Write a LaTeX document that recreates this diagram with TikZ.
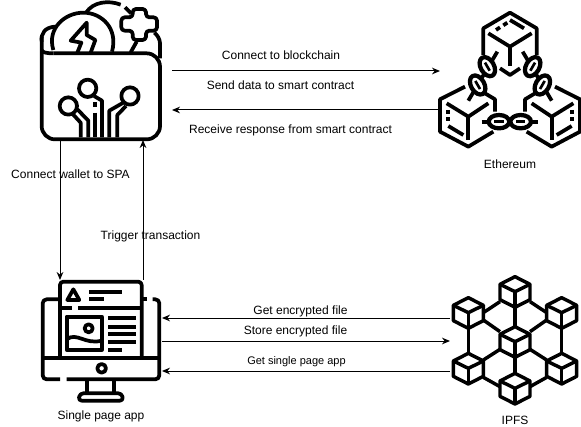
\documentclass[tikz,border=0pt]{standalone}
\usepackage{fontspec}
\setmainfont{Liberation Sans}
\usetikzlibrary{arrows.meta}
\tikzset{
  label/.style={font=\fontsize{9}{11}\selectfont,inner sep=0pt},
  small label/.style={font=\fontsize{8.25}{10}\selectfont,inner sep=0pt},
  link/.style={->,line width=0.75pt},
  icon/.style={line width=#1,line join=round,line cap=butt},
  icon/.default=2.8pt
}
\newcommand{\sidecube}{
  \draw (105,260) -- (30,298) -- (30,395) -- (115,440) -- (190,395);
  \draw (165,280) -- (195,298) -- (195,335);
  \draw (50,310) -- (115,350) -- (175,310);
  \draw (115,350) -- (115,420);
  \draw (55,330) -- (55,342);
  \draw (55,352) -- (55,364);
  \draw (55,378) -- (100,405);
}
\newcommand{\chainlink}[3]{
  \draw[rotate around={#3:(#1,#2)},fill=white,line width=3.2pt] (#1,#2) ellipse (31 and 20);
  \draw[rotate around={#3:(#1,#2)},line width=2pt] (#1-14,#2) -- (#1+14,#2);
}
\begin{document}
\begin{tikzpicture}[x=0.75pt,y=-0.75pt,>={Stealth[length=6pt,width=5pt]}]
  \useasboundingbox (0,0) rectangle (581,427);
  % labels
  \node[label] (blockchain) at (281,55.5) {Connect to blockchain};
  \node[label] (send) at (280.5,85.5) {Send data to smart contract};
  \node[label] (receive) at (290.5,130.5) {Receive response from smart contract};
  \node[label] (ethereum) at (510,164.5) {Ethereum};
  \node[label] (connect) at (70.5,174.5) {Connect wallet to SPA};
  \node[label] (trigger) at (150.5,236) {Trigger transaction};
  \node[label] (getfile) at (300.5,311) {Get encrypted file};
  \node[label] (storefile) at (295.5,331) {Store encrypted file};
  \node[small label] (getapp) at (296.5,362) {Get single page app};
  \node[label] (spa) at (101,416.5) {Single page app};
  \node[label] (ipfs) at (515,420) {IPFS};
  % connector ends
  \coordinate (W1) at (172,71);   \coordinate (E1) at (440,71);
  \coordinate (W2) at (172,110);  \coordinate (E2) at (440,110);
  \coordinate (W3) at (60,140);   \coordinate (S3) at (60,280);
  \coordinate (W4) at (143,140);  \coordinate (S4) at (143,280);
  \coordinate (S5) at (162,318);  \coordinate (I5) at (450,318);
  \coordinate (S6) at (162,341);  \coordinate (I6) at (450,341);
  \coordinate (S7) at (162,371);  \coordinate (I7) at (450,371);
  \draw[link] (W1) -- (E1);
  \draw[link] (E2) -- (W2);
  \draw[link] (W3) -- (S3);
  \draw[link] (S4) -- (W4);
  \draw[link] (I5) -- (S5);
  \draw[link] (S6) -- (I6);
  \draw[link] (I7) -- (S7);
  % wallet
  \begin{scope}[shift={(20,0)},x=0.25pt,y=-0.25pt,icon]
    \draw[rounded corners=10pt] (65,110) -- (65,418) -- (420,418) -- (420,160) -- (100,160);
    \draw (65,150) .. controls (65,157) and (80,160) .. (100,160);
    \draw (65,125) .. controls (62,100) and (75,82) .. (105,80);
    \draw (100,150) .. controls (80,85) and (135,38) .. (190,38) .. controls (245,38) and (295,85) .. (276,155);
    \draw (198,38) .. controls (220,5) and (265,0) .. (302,14);
    \draw (315,22) -- (333,40);
    \draw (420,175) -- (420,130) .. controls (420,118) and (412,105) .. (403,98);
    \draw[rounded corners=2.5pt] (338,27) -- (378,27) -- (378,52) -- (411,52) -- (411,92) -- (378,92) -- (378,120) -- (338,120) -- (338,92) -- (304,92) -- (304,52) -- (338,52) -- cycle;
    \draw (350,125) -- (332,157);
    \draw (172,158) -- (184,128) -- (152,122) -- (200,68) -- (200,105) -- (226,120) -- (212,158);
    \draw (145,318) circle (26);
    \draw (203,265) circle (26);
    \draw (330,288) circle (26);
    \draw (158,342) -- (182,368) -- (182,412);
    \draw (172,328) -- (205,362) -- (205,412);
    \draw (222,288) -- (246,302) -- (246,412);
    \draw (225,306) -- (225,322);
    \draw (225,338) -- (225,412);
    \draw (310,308) -- (268,332) -- (268,412);
    \draw (318,318) -- (292,345) -- (292,412);
  \end{scope}
  % ethereum
  \begin{scope}[shift={(430,0)},x=0.25pt,y=-0.25pt,icon]
    \draw (160,165) -- (160,85) -- (240,38) -- (320,85) -- (320,165);
    \draw (175,100) -- (240,140) -- (305,100);
    \draw (240,140) -- (240,198);
    \draw (210,205) -- (240,225) -- (270,205);
    \draw (240,60) -- (282,85);
    \draw (198,90) -- (210,82);
    \draw (220,76) -- (232,68);
    \sidecube
    \begin{scope}[shift={(480,0)},xscale=-1]
      \sidecube
    \end{scope}
    \draw (202,155) -- (115,302);
    \draw (278,155) -- (365,302);
    \draw (155,365) -- (325,365);
    \chainlink{172}{200}{-60}
    \chainlink{143}{255}{-60}
    \chainlink{308}{200}{60}
    \chainlink{337}{255}{60}
    \chainlink{207}{365}{0}
    \chainlink{272}{365}{0}
  \end{scope}
  % single page app
  \begin{scope}[shift={(30,270)},x=0.25pt,y=-0.25pt,icon]
    \draw[rounded corners=2.5pt] (90,262) -- (90,35) -- (335,35) -- (335,262);
    \draw (90,115) -- (125,115);
    \draw (145,115) -- (335,115);
    \draw (112,90) -- (130,58) -- (148,90) -- cycle;
    \draw (178,65) -- (275,65);
    \draw (178,88) -- (222,88);
    \draw (110,140) rectangle (215,240);
    \draw (176,175) circle (12);
    \draw (110,208) .. controls (140,185) and (165,225) .. (215,212);
    \foreach \y in {145,170,193,217} {
      \draw (235,\y) -- (318,\y);
    }
    \draw (235,240) -- (275,240);
    \draw[rounded corners=3pt] (90,88) -- (38,88) -- (38,328) -- (90,328);
    \draw[rounded corners=3pt] (110,328) -- (388,328) -- (388,88) -- (368,88);
    \draw (338,88) -- (352,88);
    \draw (38,263) -- (388,263);
    \draw (215,295) circle (13);
    \draw (172,330) -- (172,368);
    \draw (252,330) -- (252,368);
    \draw[rounded corners=2.5pt] (145,392) -- (150,370) -- (275,370) -- (280,392) -- cycle;
  \end{scope}
  % ipfs
  \begin{scope}[shift={(440,270)},x=0.25pt,y=-0.25pt,icon=2.6pt]
    \foreach \cx/\cy in {225/65,85/128,365/128,225/215,85/295,365/295,225/355} {
      \draw (\cx,\cy-45) -- (\cx+45,\cy-22) -- (\cx+45,\cy+24) -- (\cx,\cy+47) -- (\cx-45,\cy+24) -- (\cx-45,\cy-22) -- cycle;
      \draw (\cx-45,\cy-22) -- (\cx,\cy) -- (\cx+45,\cy-22);
      \draw (\cx,\cy) -- (\cx,\cy+47);
    }
    \draw (180,95) -- (130,128);
    \draw (270,95) -- (320,128);
    \draw (225,112) -- (225,170);
    \draw (130,150) -- (180,185);
    \draw (320,150) -- (270,185);
    \draw (85,175) -- (85,250);
    \draw (365,175) -- (365,250);
    \draw (180,238) -- (130,270);
    \draw (270,238) -- (320,270);
    \draw (225,262) -- (225,310);
    \draw (130,322) -- (180,350);
    \draw (320,322) -- (270,350);
  \end{scope}
\end{tikzpicture}
\end{document}
